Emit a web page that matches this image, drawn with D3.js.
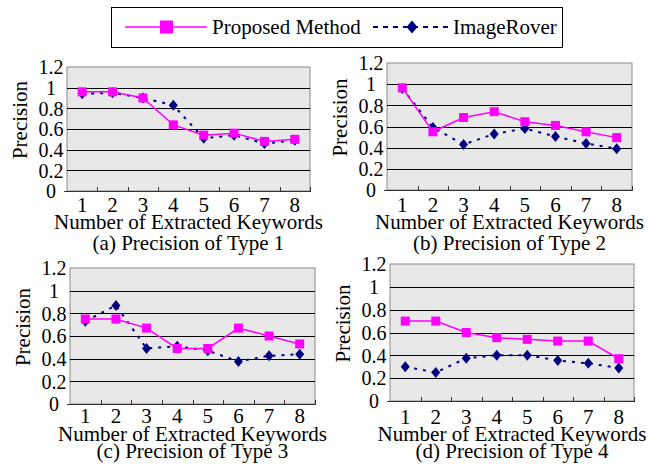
<!DOCTYPE html>
<html>
<head>
<meta charset="utf-8">
<script src="https://cdn.jsdelivr.net/npm/d3@7"></script>
<style>
  html, body { margin: 0; padding: 0; background: #fff; }
  svg { display: block; }
  text { font-family: "Liberation Serif", "Times New Roman", serif; fill: #000; }
</style>
</head>
<body>
<svg id="chart" width="659" height="470"></svg>
<script>
// ---------- data ----------
const categories = ["1", "2", "3", "4", "5", "6", "7", "8"];
const yTicks = [0, 0.2, 0.4, 0.6, 0.8, 1, 1.2];
const yTickLabels = ["0", "0.2", "0.4", "0.6", "0.8", "1", "1.2"];
const seriesNames = ["Proposed Method", "ImageRover"];
const captions = ["(a) Precision of Type 1", "(b) Precision of Type 2", "(c) Precision of Type 3", "(d) Precision of Type 4"];
const xTitle = "Number of Extracted Keywords";
const yTitle = "Precision";

const proposed1 = [0.96, 0.96, 0.90, 0.64, 0.54, 0.56, 0.48, 0.50];
const rover1    = [0.94, 0.95, 0.90, 0.83, 0.51, 0.54, 0.46, 0.49];
const proposed2 = [0.965, 0.55, 0.685, 0.74, 0.645, 0.61, 0.55, 0.495];
const rover2    = [0.96, 0.59, 0.43, 0.53, 0.58, 0.505, 0.44, 0.39];
const proposed3 = [0.75, 0.75, 0.67, 0.49, 0.49, 0.67, 0.60, 0.53];
const rover3    = [0.73, 0.87, 0.49, 0.51, 0.47, 0.375, 0.425, 0.44];
const proposed4 = [0.70, 0.70, 0.60, 0.555, 0.54, 0.525, 0.525, 0.37];
const rover4    = [0.30, 0.25, 0.375, 0.40, 0.40, 0.355, 0.33, 0.29];

const proposedAll = [proposed1, proposed2, proposed3, proposed4];
const roverAll = [rover1, rover2, rover3, rover4];

// ---------- layout ----------
const panels = [
  { left: 67,  right: 310, top: 67,  bottom: 191, tickY: 212, titleY: 229, capY: 250 },
  { left: 387, right: 632, top: 63,  bottom: 190, tickY: 212, titleY: 229, capY: 250 },
  { left: 70,  right: 315, top: 268, bottom: 404, tickY: 423, titleY: 441, capY: 458 },
  { left: 390, right: 634, top: 264, bottom: 401, tickY: 424, titleY: 441, capY: 458 }
];
const PINK = "#ff00ff", NAVY = "#000080";
const svg = d3.select("#chart");

function diamond(cx, cy, hw, hh) {
  return `M${cx},${cy - hh}L${cx + hw},${cy}L${cx},${cy + hh}L${cx - hw},${cy}Z`;
}

panels.forEach((p, k) => {
  const x = d3.scaleBand().domain(categories).range([p.left, p.right]).padding(0);
  const y = d3.scaleLinear().domain([0, 1.2]).range([p.bottom, p.top]);
  const g = svg.append("g");

  // plot area
  g.append("rect")
    .attr("x", p.left).attr("y", p.top)
    .attr("width", p.right - p.left).attr("height", p.bottom - p.top)
    .attr("fill", "#e8e8e8").attr("stroke", "#8a8a8a").attr("stroke-width", 1);

  // gridlines
  g.selectAll(".grid").data(yTicks.filter(v => v > 0 && v < 1.2)).enter()
    .append("line")
    .attr("x1", p.left).attr("x2", p.right)
    .attr("y1", d => Math.round(y(d)) + 0.5).attr("y2", d => Math.round(y(d)) + 0.5)
    .attr("stroke", "#000").attr("stroke-width", 1);

  // y axis labels
  const ya = g.append("g").attr("transform", `translate(${p.left},0)`)
    .call(d3.axisLeft(y).tickValues(yTicks).tickFormat((d, i) => yTickLabels[i]).tickSize(0));
  ya.select(".domain").remove();
  ya.selectAll("text")
    .attr("x", -16).attr("dy", "0.34em")
    .attr("text-anchor", "middle")
    .style("font-family", '"Liberation Serif", "Times New Roman", serif')
    .style("font-size", "20px");

  // x axis
  const xa = g.append("g").attr("transform", `translate(0,${p.bottom})`)
    .call(d3.axisBottom(x).tickSize(0));
  xa.select(".domain").remove();
  xa.selectAll("text")
    .attr("y", p.tickY - p.bottom).attr("dy", 0)
    .style("font-family", '"Liberation Serif", "Times New Roman", serif')
    .style("font-size", "21px");

  g.append("line")
    .attr("x1", p.left - 3).attr("x2", p.right)
    .attr("y1", p.bottom + 0.5).attr("y2", p.bottom + 0.5)
    .attr("stroke", "#333").attr("stroke-width", 1);
  g.selectAll(".xtick").data(categories.slice(1).concat(["end"])).enter()
    .append("line")
    .attr("x1", d => d === "end" ? p.right + 0.5 : Math.round(x(d)) + 0.5)
    .attr("x2", d => d === "end" ? p.right + 0.5 : Math.round(x(d)) + 0.5)
    .attr("y1", p.bottom - 4).attr("y2", p.bottom + 1)
    .attr("stroke", "#333").attr("stroke-width", 1);

  // series
  const cx = d => x(d) + x.bandwidth() / 2;
  const rover = roverAll[k].map((v, i) => ({ c: categories[i], v }));
  const prop = proposedAll[k].map((v, i) => ({ c: categories[i], v }));
  const line = d3.line().x(d => cx(d.c)).y(d => y(d.v));

  g.append("path").datum(rover)
    .attr("d", line).attr("fill", "none")
    .attr("stroke", NAVY).attr("stroke-width", 2).attr("stroke-dasharray", "3,6");
  g.selectAll(".dia").data(rover).enter().append("path")
    .attr("d", d => diamond(cx(d.c), y(d.v), 4.5, 5.5))
    .attr("fill", NAVY);

  g.append("path").datum(prop)
    .attr("d", line).attr("fill", "none")
    .attr("stroke", PINK).attr("stroke-width", 1.5);
  g.selectAll(".sq").data(prop).enter().append("rect")
    .attr("x", d => cx(d.c) - 4.5).attr("y", d => y(d.v) - 4.5)
    .attr("width", 9).attr("height", 9)
    .attr("fill", PINK);

  // titles
  const midX = (p.left + p.right) / 2;
  g.append("text")
    .attr("x", midX).attr("y", p.titleY)
    .attr("text-anchor", "middle").style("font-size", "21px")
    .text(xTitle);
  g.append("text")
    .attr("x", midX).attr("y", p.capY)
    .attr("text-anchor", "middle").style("font-size", "21px")
    .text(captions[k]);
  const yc = (p.top + p.bottom) / 2 - 9;
  g.append("text")
    .attr("transform", `translate(${p.left - 47},${yc}) rotate(-90)`)
    .attr("dy", "0.34em")
    .attr("text-anchor", "middle").style("font-size", "21px")
    .text(yTitle);
});

// ---------- legend ----------
const lg = svg.append("g");
lg.append("rect")
  .attr("x", 111.5).attr("y", 7.5).attr("width", 451).attr("height", 40)
  .attr("fill", "#fff").attr("stroke", "#000").attr("stroke-width", 1);
lg.append("line").attr("x1", 125).attr("x2", 207).attr("y1", 27).attr("y2", 27)
  .attr("stroke", PINK).attr("stroke-width", 1.5);
lg.append("rect").attr("x", 160).attr("y", 20.5).attr("width", 13).attr("height", 13)
  .attr("fill", PINK);
lg.append("text").attr("x", 212).attr("y", 34).style("font-size", "21px").text(seriesNames[0]);
lg.append("line").attr("x1", 373).attr("x2", 451).attr("y1", 27).attr("y2", 27)
  .attr("stroke", NAVY).attr("stroke-width", 2).attr("stroke-dasharray", "5,5");
lg.append("path").attr("d", diamond(412, 27, 5.5, 6.5)).attr("fill", NAVY);
lg.append("text").attr("x", 453).attr("y", 34).style("font-size", "21px").text(seriesNames[1]);
</script>
</body>
</html>
